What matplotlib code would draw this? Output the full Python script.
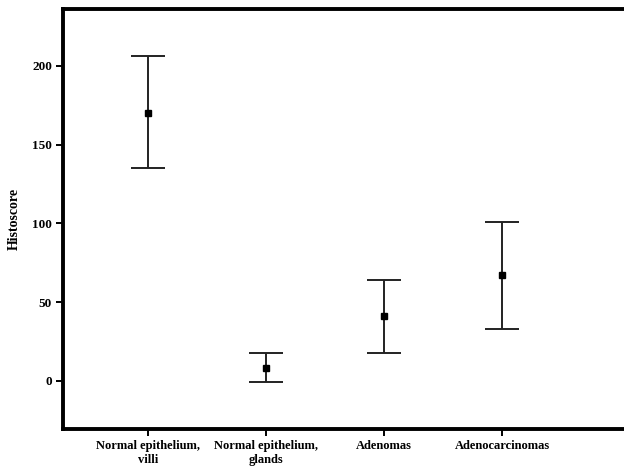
import matplotlib
matplotlib.use("Agg")
import matplotlib.pyplot as plt

# group labels and values
groups = ["Normal epithelium,\nvilli", "Normal epithelium,\nglands", "Adenomas", "Adenocarcinomas"]
means = [170, 8, 41, 67]
upper = [206, 18, 64, 101]
lower = [135, -1, 18, 33]

plt.rcParams["font.family"] = ["Liberation Serif", "DejaVu Serif"]
plt.rcParams["font.weight"] = "bold"

fig = plt.figure(figsize=(6.24, 4.67), dpi=100)
ax = fig.add_axes([0.101, 0.0814, 0.91, 0.8993])

x = list(range(len(groups)))
err_lo = [m - l for m, l in zip(means, lower)]
err_hi = [u - m for m, u in zip(means, upper)]
ax.errorbar(x, means, yerr=[err_lo, err_hi], fmt="s", color="black",
            ecolor="#222222", elinewidth=1.4, capsize=12, capthick=1.4,
            markersize=4)

ax.set_xlim(-0.72, 4.09)
ax.set_ylim(-30.5, 236)
ax.set_yticks([0, 50, 100, 150, 200])
ax.set_xticks(x)
ax.set_xticklabels(groups, fontsize=9, fontweight="bold")
for lab in ax.get_yticklabels():
    lab.set_fontsize(9.5)
    lab.set_fontweight("bold")
ax.set_ylabel("Histoscore", fontsize=10, fontweight="bold", labelpad=8)

for side in ["left", "top", "bottom"]:
    ax.spines[side].set_linewidth(2.8)
ax.spines["right"].set_visible(False)
ax.tick_params(direction="out", length=5, width=1.4, pad=3)

fig.savefig("out.png", dpi=100)
